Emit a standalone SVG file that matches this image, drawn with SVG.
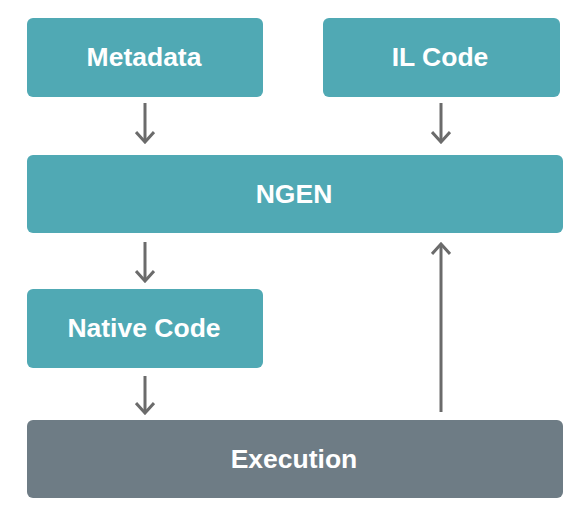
<svg xmlns="http://www.w3.org/2000/svg" width="588" height="528" viewBox="0 0 588 528">
<defs>
<style>
.box{fill:#50A9B4;}
.exec{fill:#6E7C85;}
.lbl{fill:#ffffff;font-family:"Liberation Sans",Arial,sans-serif;font-weight:bold;font-size:26.5px;text-anchor:middle;}
.conn{stroke:#6B6B6B;stroke-width:3;fill:none;}
</style>
<marker id="ah" viewBox="0 0 20 20" refX="18" refY="10" markerWidth="20" markerHeight="20" markerUnits="userSpaceOnUse" orient="auto">
<path d="M8,1 L18,10 L8,19" fill="none" stroke="#6B6B6B" stroke-width="3"/>
</marker>
</defs>
<rect width="588" height="528" fill="#ffffff"/>
<g id="metadata"><rect class="box" x="27" y="18" width="236" height="79" rx="6"/><text class="lbl" x="144" y="66">Metadata</text></g>
<g id="ilcode"><rect class="box" x="323" y="18" width="237" height="79" rx="6"/><text class="lbl" x="440" y="66">IL Code</text></g>
<g id="ngen"><rect class="box" x="27" y="155" width="536" height="78" rx="6"/><text class="lbl" x="294" y="203">NGEN</text></g>
<g id="native"><rect class="box" x="27" y="289" width="236" height="79" rx="6"/><text class="lbl" x="144" y="337">Native Code</text></g>
<g id="execution"><rect class="exec" x="27" y="420" width="536" height="78" rx="6"/><text class="lbl" x="294" y="468">Execution</text></g>
<g id="connectors">
<line class="conn" x1="145" y1="103" x2="145" y2="142" marker-end="url(#ah)"/>
<line class="conn" x1="441" y1="103" x2="441" y2="142" marker-end="url(#ah)"/>
<line class="conn" x1="145" y1="242" x2="145" y2="281" marker-end="url(#ah)"/>
<line class="conn" x1="145" y1="376" x2="145" y2="413" marker-end="url(#ah)"/>
<line class="conn" x1="441" y1="412" x2="441" y2="244" marker-end="url(#ah)"/>
</g>
</svg>
